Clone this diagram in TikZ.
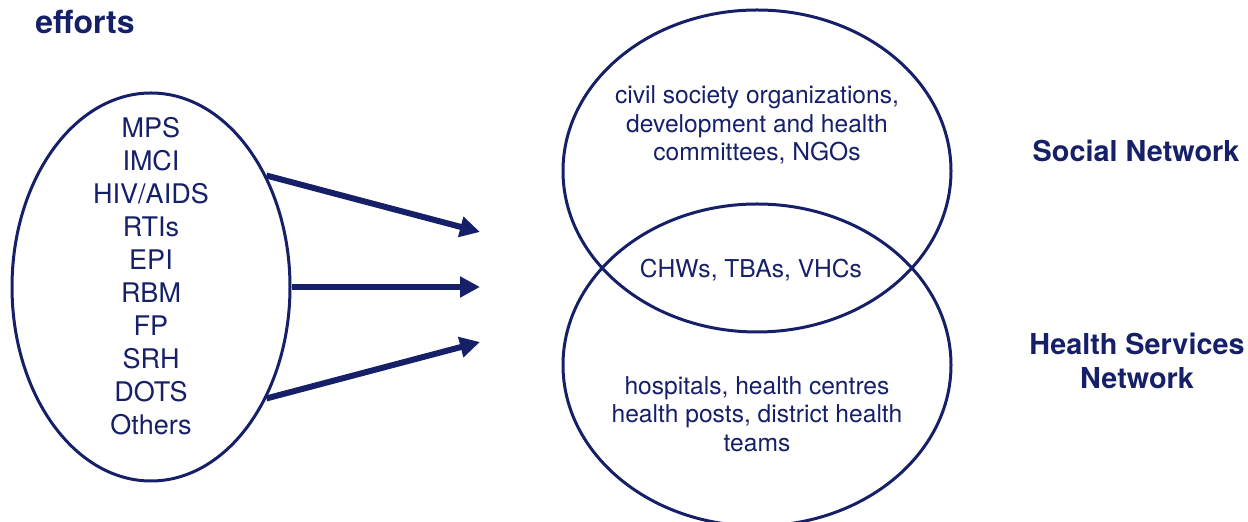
\documentclass[tikz,border=0pt]{standalone}
\usepackage{fontspec}
\setmainfont{TeX Gyre Heros}
\usetikzlibrary{shapes.geometric,arrows.meta}
\definecolor{navy}{RGB}{22,32,104}

\begin{document}
\begin{tikzpicture}[x=0.5pt,y=-0.5pt,
  oval/.style={draw=navy, line width=1.5pt, ellipse, inner sep=0pt},
  txt/.style={text=navy, align=center, font=\fontsize{12.3}{14.2}\selectfont},
  lbl/.style={text=navy, align=center, font=\bfseries\fontsize{14.4}{17}\selectfont},
  bigarrow/.style={draw=navy, line width=3pt, -{Triangle[length=10pt,width=10pt]}}]
\useasboundingbox (0,0) rectangle (1248,522);

% Heading
\node[lbl, font=\bfseries\fontsize{16}{19}\selectfont] (head) at (85,22) {efforts};

% Efforts
\node[oval, minimum width=139pt, minimum height=194pt] (items) at (151,287) {};
\node[txt, font=\fontsize{13.5}{16.5}\selectfont] (itemlist) at (151,276)
  {MPS\\IMCI\\HIV/AIDS\\RTIs\\EPI\\RBM\\FP\\SRH\\DOTS\\Others};

% Networks
\node[oval, minimum width=194pt, minimum height=161pt] (social) at (757,171) {};
\node[oval, minimum width=194pt, minimum height=161pt] (health) at (757,365) {};
\node[txt] (socialtxt) at (757,125)
  {civil society organizations,\\development and health\\committees, NGOs};
\node[txt] (overlap) at (751,270) {CHWs, TBAs, VHCs};
\node[txt] (healthtxt) at (757,414)
  {hospitals, health centres\\health posts, district health\\teams};

% Labels
\node[lbl] (sociallbl) at (1136,151) {Social Network};
\node[lbl] (healthlbl) at (1137,361) {Health Services\\Network};

% Arrows
\coordinate (t1) at (480,232);
\coordinate (t2) at (480,287);
\coordinate (t3) at (480,342);
\draw[bigarrow] (items.44) -- (t1);
\draw[bigarrow] (items.east) -- (t2);
\draw[bigarrow] (items.-44) -- (t3);
\end{tikzpicture}
\end{document}
